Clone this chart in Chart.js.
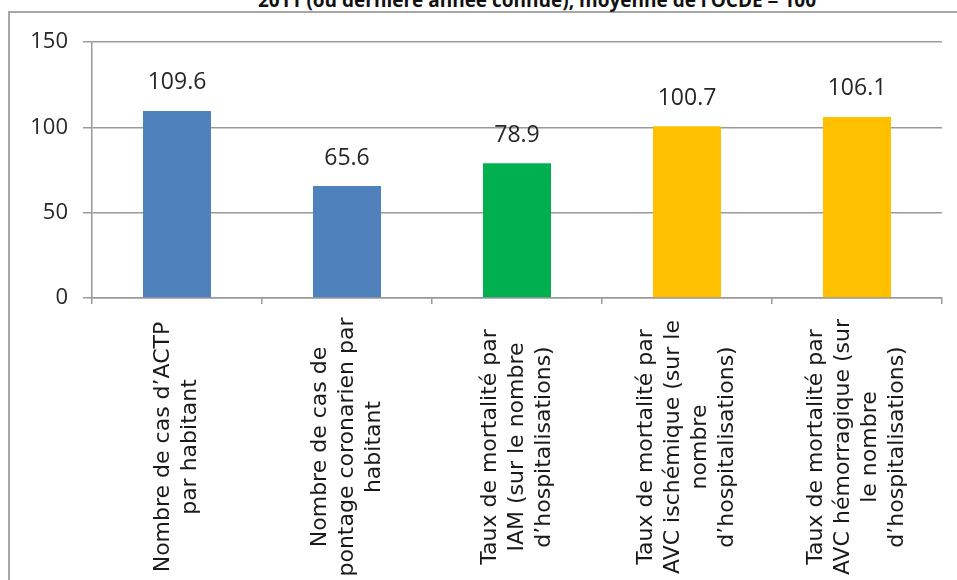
<!DOCTYPE html>
<html lang="fr">
<head>
<meta charset="utf-8">
<title>Indicateurs cardiovasculaires</title>
<script src="https://cdn.jsdelivr.net/npm/chart.js@4/dist/chart.umd.min.js"></script>
<style>
  html, body { margin: 0; padding: 0; background: #fff; }
  #wrap { position: relative; width: 957px; height: 580px; overflow: hidden; }
  #frame { position: absolute; left: 8px; top: 11px; right: -20px; bottom: -20px; border: 2px solid #a6a6a6; }
  #title {
    position: absolute; left: 0; width: 1074px; top: -13px; text-align: center;
    font: bold 19px "Open Sans", sans-serif; color: #111; white-space: nowrap;
  }
  #chart { position: absolute; left: 0; top: 0; }
</style>
</head>
<body>
<div id="wrap">
  <div id="frame"></div>
  <div id="title">2011 (ou dernière année connue), moyenne de l’OCDE = 100</div>
  <canvas id="chart" width="957" height="580"></canvas>
</div>
<script>
// categories (one entry per bar, split into the lines shown under the axis)
const categories = [
  ["Nombre de cas d’ACTP", "par habitant"],
  ["Nombre de cas de", "pontage coronarien par", "habitant"],
  ["Taux de mortalité par", "IAM (sur le nombre", "d’hospitalisations)"],
  ["Taux de mortalité par", "AVC ischémique (sur le", "nombre", "d’hospitalisations)"],
  ["Taux de mortalité par", "AVC hémorragique (sur", "le nombre", "d’hospitalisations)"]
];
const values = [109.6, 65.6, 78.9, 100.7, 106.1];
const yTicks = [0, 50, 100, 150];
const barColors = ["#4f81bd", "#4f81bd", "#00b050", "#ffc000", "#ffc000"];

const gridColor = "#9a9a9a";

// value labels above bars
const valueLabels = {
  id: "valueLabels",
  afterDatasetsDraw(chart) {
    const ctx = chart.ctx;
    const meta = chart.getDatasetMeta(0);
    ctx.save();
    ctx.font = "23px 'Open Sans', sans-serif";
    ctx.fillStyle = "#262626";
    ctx.textAlign = "center";
    ctx.textBaseline = "middle";
    meta.data.forEach((bar, i) => {
      ctx.fillText(values[i].toFixed(1), bar.x, bar.y - 28);
    });
    ctx.restore();
  }
};

// rotated, centred multi-line category labels
const categoryLabels = {
  id: "categoryLabels",
  afterDraw(chart) {
    const ctx = chart.ctx;
    const xScale = chart.scales.x;
    const lineH = 27;
    ctx.save();
    ctx.font = "22px 'DejaVu Sans', sans-serif";
    ctx.fillStyle = "#1a1a1a";
    ctx.textAlign = "center";
    ctx.textBaseline = "middle";
    categories.forEach((lines, i) => {
      const x = xScale.getPixelForValue(i);
      ctx.save();
      ctx.translate(x, 447);
      ctx.rotate(-Math.PI / 2);
      lines.forEach((line, j) => {
        ctx.fillText(line, 0, (j - (lines.length - 1) / 2) * lineH);
      });
      ctx.restore();
    });
    ctx.restore();
  }
};

new Chart(document.getElementById("chart"), {
  type: "bar",
  data: {
    labels: categories.map(c => c.join(" ")),
    datasets: [{
      data: values,
      backgroundColor: barColors,
      borderWidth: 0,
      barPercentage: 0.4,
      categoryPercentage: 1
    }]
  },
  options: {
    responsive: false,
    animation: false,
    layout: { padding: { left: 0, top: 42, right: 15, bottom: 0 } },
    plugins: {
      legend: { display: false },
      tooltip: { enabled: false },
      title: { display: false }
    },
    scales: {
      x: {
        offset: true,
        afterFit: s => { s.height = 282; },
        grid: {
          offset: true,
          drawOnChartArea: false,
          drawTicks: true,
          tickLength: 6,
          color: gridColor,
          lineWidth: 1.5
        },
        border: { color: gridColor, width: 1.5 },
        ticks: { display: false }
      },
      y: {
        min: 0,
        max: 150,
        afterFit: s => { s.width = 92; },
        afterBuildTicks: s => { s.ticks = yTicks.map(v => ({ value: v })); },
        grid: { color: gridColor, lineWidth: 1.5, tickLength: 9 },
        border: { color: gridColor, width: 1.5 },
        ticks: {
          padding: 15,
          color: "#262626",
          font: { family: "'Open Sans', sans-serif", size: 22 }
        }
      }
    }
  },
  plugins: [valueLabels, categoryLabels]
});
</script>
</body>
</html>
